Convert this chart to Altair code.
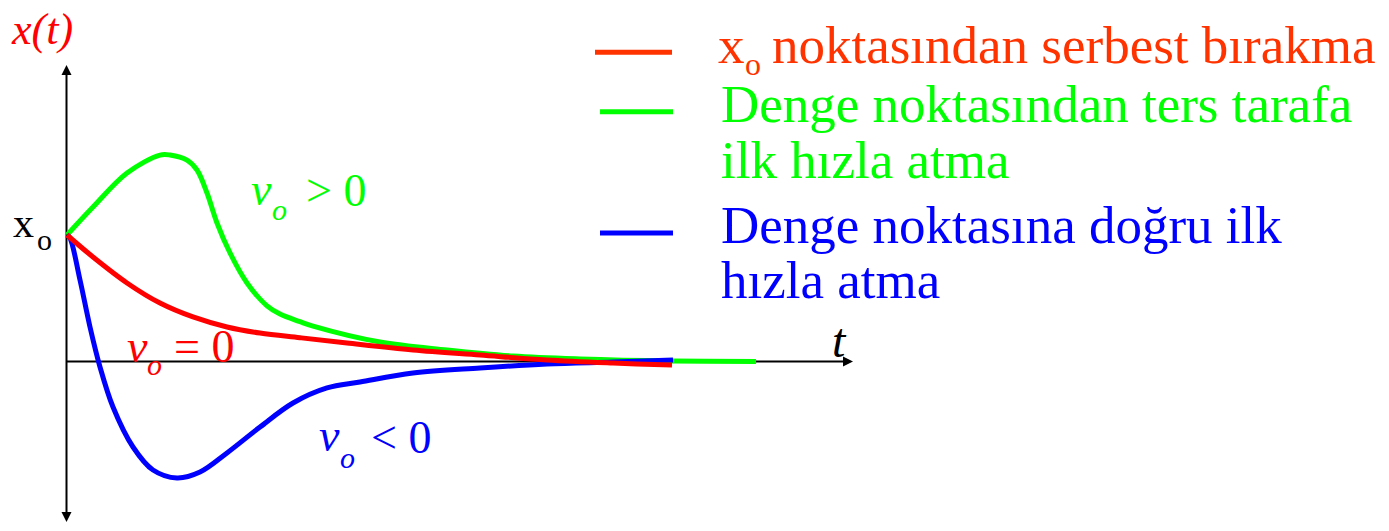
import altair as alt
import pandas as pd

# ---- curve data (t in units of 100 px, x in units of x0) ----
t_red = [0, 0.26, 0.60, 0.93, 1.26, 1.60, 1.93, 2.33, 2.80, 3.46, 4.13, 4.80, 5.46, 6.05]
x_red = [1.0, 0.826, 0.621, 0.462, 0.352, 0.273, 0.225, 0.188, 0.146, 0.091, 0.051, 0.012, -0.012, -0.028]

t_green = [0, 0.26, 0.60, 0.93, 1.03, 1.20, 1.30, 1.40, 1.50, 1.63, 1.80, 2.00, 2.13, 2.33, 2.46,
           3.13, 3.80, 4.46, 5.13, 6.06, 6.89]
x_green = [1.0, 1.221, 1.490, 1.632, 1.632, 1.592, 1.514, 1.332, 1.095, 0.858, 0.621, 0.440, 0.375,
           0.315, 0.280, 0.154, 0.091, 0.043, 0.020, 0.004, 0.0]

t_blue = [0, 0.03, 0.13, 0.23, 0.33, 0.46, 0.66, 0.86, 1.10, 1.33, 1.60, 1.93, 2.26, 2.60, 2.93,
          3.46, 4.13, 4.80, 5.46, 6.06]
x_blue = [1.0, 0.976, 0.644, 0.273, -0.043, -0.36, -0.676, -0.858, -0.921, -0.874, -0.723, -0.518,
          -0.328, -0.209, -0.162, -0.091, -0.051, -0.020, -0.004, 0.012]

series_names = ["green", "blue", "red"]
series_colors = ["#00ff00", "#0000ff", "#ff0000"]

legend_lines = ["x_o noktasından serbest bırakma",
                "Denge noktasından ters tarafa ilk hızla atma",
                "Denge noktasına doğru ilk hızla atma"]
legend_colors = ["#ff3300", "#00ff00", "#0000ff"]

rows = []
for name, ts, xs in [("green", t_green, x_green), ("blue", t_blue, x_blue), ("red", t_red, x_red)]:
    for i, (t, x) in enumerate(zip(ts, xs)):
        rows.append({"t": t, "x": x, "series": name, "order": i})
curves = pd.DataFrame(rows)

xscale = alt.Scale(domain=[-0.59, 13.14], nice=False, zero=False)
yscale = alt.Scale(domain=[-1.2767, 2.7945], nice=False, zero=False)
X = lambda f: alt.X(f, type="quantitative", scale=xscale, axis=None)
Y = lambda f: alt.Y(f, type="quantitative", scale=yscale, axis=None)

# ---- axes ----
axes_df = pd.DataFrame([
    {"t": -0.005, "x": 2.289, "t2": -0.005, "x2": -1.237},
    {"t": -0.005, "x": 0.0, "t2": 7.78, "x2": 0.0},
])
axes = alt.Chart(axes_df).mark_rule(color="black", strokeWidth=2).encode(
    x=X("t"), y=Y("x"), x2="t2", y2="x2")

up = alt.Chart(pd.DataFrame([{"t": -0.005, "x": 2.304}])).mark_point(
    shape="M0,-1L1,1L-1,1Z", filled=True, color="black", opacity=1, size=100, strokeWidth=0
).encode(x=X("t"), y=Y("x"))
down = alt.Chart(pd.DataFrame([{"t": -0.005, "x": -1.229}])).mark_point(
    shape="M0,1L1,-1L-1,-1Z", filled=True, color="black", opacity=1, size=100, strokeWidth=0
).encode(x=X("t"), y=Y("x"))
right = alt.Chart(pd.DataFrame([{"t": 7.81, "x": 0.0}])).mark_point(
    shape="M1,0L-1,-1L-1,1Z", filled=True, color="black", opacity=1, size=100, strokeWidth=0
).encode(x=X("t"), y=Y("x"))

# ---- curves ----
lines = alt.Chart(curves).mark_line(strokeWidth=5, interpolate="catmull-rom").encode(
    x=X("t"), y=Y("x"),
    color=alt.Color("series:N", scale=alt.Scale(domain=series_names, range=series_colors), legend=None),
    detail="series:N", order="order:Q")

# ---- legend swatches ----
leg_df = pd.DataFrame([
    {"t": 5.28, "t2": 6.05, "x": 2.444, "c": legend_colors[0]},
    {"t": 5.33, "t2": 6.06, "x": 1.975, "c": legend_colors[1]},
    {"t": 5.33, "t2": 6.06, "x": 1.016, "c": legend_colors[2]},
])
leg = alt.Chart(leg_df).mark_rule(strokeWidth=5).encode(
    x=X("t"), x2="t2", y=Y("x"), color=alt.Color("c:N", scale=None))

# ---- texts ----
upright = pd.DataFrame([
    {"txt": "x", "t": -0.54, "x": 0.984, "c": "black", "s": 42},
    {"txt": "o", "t": -0.30, "x": 0.881, "c": "black", "s": 30},
    {"txt": "= 0", "t": 1.07, "x": -0.004, "c": "#ff0000", "s": 46},
    {"txt": "> 0", "t": 2.39, "x": 1.229, "c": "#00ff00", "s": 46},
    {"txt": "< 0", "t": 3.04, "x": -0.723, "c": "#0000ff", "s": 46},
    {"txt": "x", "t": 6.51, "x": 2.362, "c": legend_colors[0], "s": 53},
    {"txt": "o", "t": 6.78, "x": 2.265, "c": legend_colors[0], "s": 32},
    {"txt": legend_lines[0][4:], "t": 7.05, "x": 2.362, "c": legend_colors[0], "s": 53},
    {"txt": "Denge noktasından ters tarafa", "t": 6.54, "x": 1.896, "c": legend_colors[1], "s": 53},
    {"txt": "ilk hızla atma", "t": 6.54, "x": 1.451, "c": legend_colors[1], "s": 53},
    {"txt": "Denge noktasına doğru ilk", "t": 6.54, "x": 0.939, "c": legend_colors[2], "s": 53},
    {"txt": "hızla atma", "t": 6.54, "x": 0.502, "c": legend_colors[2], "s": 53},
])
italic = pd.DataFrame([
    {"txt": "x(t)", "t": -0.55, "x": 2.510, "c": "#ff0000", "s": 44},
    {"txt": "t", "t": 7.65, "x": 0.036, "c": "black", "s": 48},
    {"txt": "v", "t": 0.60, "x": -0.004, "c": "#ff0000", "s": 46},
    {"txt": "o", "t": 0.80, "x": -0.107, "c": "#ff0000", "s": 30},
    {"txt": "v", "t": 1.84, "x": 1.237, "c": "#00ff00", "s": 46},
    {"txt": "o", "t": 2.05, "x": 1.119, "c": "#00ff00", "s": 30},
    {"txt": "v", "t": 2.52, "x": -0.708, "c": "#0000ff", "s": 46},
    {"txt": "o", "t": 2.73, "x": -0.842, "c": "#0000ff", "s": 30},
])

def text_layer(df, style):
    return alt.Chart(df).mark_text(
        font="Liberation Serif", fontStyle=style, align="left", baseline="alphabetic"
    ).encode(x=X("t"), y=Y("x"), text="txt:N",
             color=alt.Color("c:N", scale=None), size=alt.Size("s:Q", scale=None))

chart = alt.layer(
    axes, up, down, right, lines, leg,
    text_layer(upright, "normal"), text_layer(italic, "italic")
).properties(
    width=1373, height=515, padding=0,
    autosize=alt.AutoSizeParams(type="none"), background="white"
).configure_view(stroke=None)

chart.save("out.html", embed_options={"renderer": "svg", "actions": False})
